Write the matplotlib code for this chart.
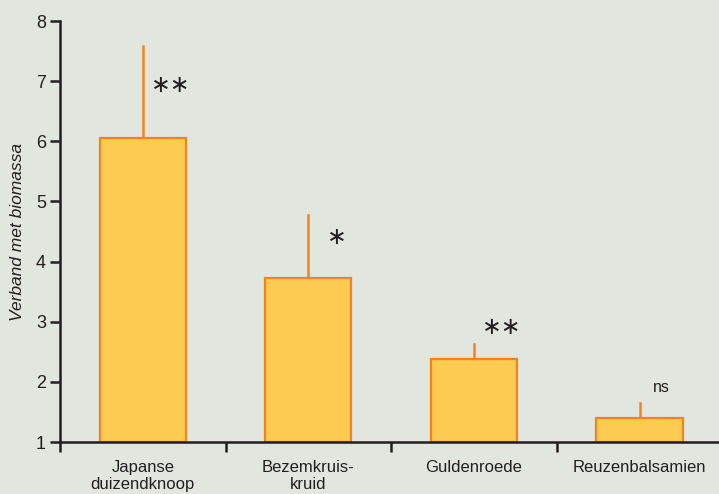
import matplotlib.pyplot as plt

# data
soorten = ['Japanse\nduizendknoop', 'Bezemkruis-\nkruid', 'Guldenroede', 'Reuzenbalsamien']
waarden = [6.05, 3.73, 2.38, 1.40]
fout = [1.53, 1.04, 0.25, 0.25]
sterren = ['**', '*', '**', 'ns']
ster_y = [6.94, 4.41, 2.91, 1.90]

bg = '#e1e7df'
vul = '#fecb52'
rand = '#f5821f'
zwart = '#231f20'

plt.rcParams['font.family'] = ['Liberation Sans Narrow', 'Liberation Sans', 'DejaVu Sans']

fig = plt.figure(figsize=(7.19, 4.94), dpi=100, facecolor=bg)
ax = fig.add_axes([60/719, 1-442/494, 1-60/719, (442-21)/494])
ax.set_facecolor(bg)

x = list(range(len(soorten)))
basis = 1
hoogte = [w - basis for w in waarden]
ax.bar(x, hoogte, bottom=basis, width=0.52, color=vul, edgecolor=rand, linewidth=1.6, zorder=2)
for i in x:
    ax.plot([i, i], [waarden[i], waarden[i] + fout[i]], color=rand, lw=1.8, zorder=1)
    if sterren[i] == 'ns':
        ax.text(i + 0.13, ster_y[i], sterren[i], fontsize=11.5, ha='center', va='center', color=zwart)
    else:
        ax.text(i + 0.17, ster_y[i], '\u2217' * len(sterren[i]), fontsize=17,
                ha='center', va='center', color=zwart, family='DejaVu Sans')

ax.set_xlim(-0.5, 3.48)
ax.set_ylim(1, 8)
ax.set_yticks(range(1, 9))
ax.set_xticks(x)
ax.set_xticklabels(soorten, fontsize=12, color=zwart, linespacing=1.15)
ax.set_xticks([-0.5, 0.5, 1.5, 2.5], minor=True)
ax.tick_params(axis='x', which='major', length=0, pad=13)
ax.tick_params(axis='x', which='minor', length=7, width=1.8, color=zwart, direction='out')
ax.tick_params(axis='y', length=7, width=1.8, color=zwart, labelsize=13, labelcolor=zwart, pad=3)

for s in ['top', 'right']:
    ax.spines[s].set_visible(False)
for s in ['left', 'bottom']:
    ax.spines[s].set_color(zwart)
    ax.spines[s].set_linewidth(1.8)

ax.set_ylabel('Verband met biomassa', fontsize=12.5, style='italic', color=zwart, labelpad=8)

fig.savefig('out.png', dpi=100, facecolor=bg)
